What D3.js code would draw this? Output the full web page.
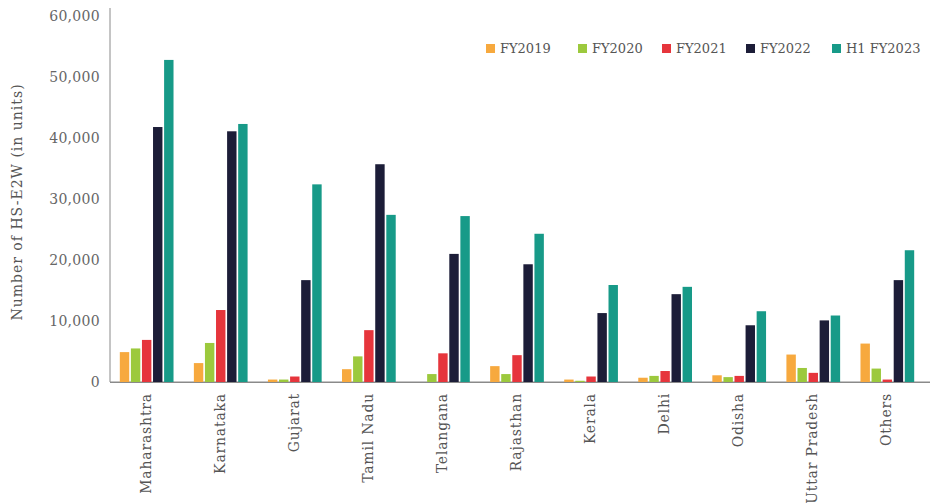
<!DOCTYPE html>
<html><head><meta charset="utf-8">
<script src="https://cdn.jsdelivr.net/npm/d3@7"></script>
<style>body{margin:0;background:#fff;} text{font-family:"DejaVu Serif","Liberation Serif",serif;}</style>
</head><body>
<svg id="c" width="932" height="503"></svg>
<script>
const categories = ["Maharashtra","Karnataka","Gujarat","Tamil Nadu","Telangana","Rajasthan","Kerala","Delhi","Odisha","Uttar Pradesh","Others"];
const seriesNames = ["FY2019","FY2020","FY2021","FY2022","H1 FY2023"];
const fy2019 = [4900, 3100, 400, 2100, 0, 2600, 400, 700, 1100, 4500, 6300];
const fy2020 = [5500, 6400, 400, 4200, 1300, 1300, 200, 1000, 800, 2300, 2200];
const fy2021 = [6900, 11800, 900, 8500, 4700, 4400, 900, 1800, 1000, 1500, 400];
const fy2022 = [41800, 41100, 16700, 35700, 21000, 19300, 11300, 14400, 9300, 10100, 16700];
const h1fy2023 = [52800, 42300, 32400, 27400, 27200, 24300, 15900, 15600, 11600, 10900, 21600];
const yTicks = [0, 10000, 20000, 30000, 40000, 50000, 60000];
const colors = ["#F7A93E", "#9CC93D", "#E6353C", "#1C1D38", "#179A88"];
const series = [fy2019, fy2020, fy2021, fy2022, h1fy2023];

const svg = d3.select("#c");
const x0 = d3.scaleBand().domain(categories).range([110, 924]).paddingInner(0.23).paddingOuter(0.11);
const x1 = d3.scaleBand().domain(seriesNames).range([0, x0.bandwidth()]).padding(0.15);
const y = d3.scaleLinear().domain([0, 60000]).range([382, 16]);

// axes
const yAxis = svg.append("g").attr("transform","translate(110,0)")
  .call(d3.axisLeft(y).tickValues(yTicks).tickSize(0).tickPadding(10).tickFormat(d3.format(",")));
yAxis.select(".domain").attr("stroke","#8a8a8a").attr("d","M0,8V382");
yAxis.selectAll("text").attr("fill","#666").style("font-size","14px").style("letter-spacing","0.3px");

const xAxis = svg.append("g").attr("transform","translate(0,382)")
  .call(d3.axisBottom(x0).tickSize(0).tickPadding(0));
xAxis.select(".domain").attr("stroke","#8a8a8a").attr("d","M110,0H930");
xAxis.selectAll("text").attr("fill","#555").style("font-size","14px").style("letter-spacing","0.8px")
  .attr("text-anchor","end").attr("transform","rotate(-90)").attr("dy","0.35em").attr("x",-11).attr("y",-1);

// bars
const g = svg.append("g");
categories.forEach((c, i) => {
  series.forEach((s, j) => {
    g.append("rect")
      .attr("x", x0(c) + x1(seriesNames[j]))
      .attr("width", x1.bandwidth())
      .attr("y", y(s[i]))
      .attr("height", y(0) - y(s[i]))
      .attr("fill", colors[j]);
  });
});
svg.append("line").attr("x1",110).attr("x2",930).attr("y1",382.5).attr("y2",382.5).attr("stroke","#8a8a8a");

// y label
svg.append("text").attr("transform","translate(22,202) rotate(-90)").attr("text-anchor","middle")
  .attr("fill","#555").style("font-size","14px").style("letter-spacing","1px").text("Number of HS-E2W (in units)");

// legend
const legX = [486, 578, 662, 746, 832];
seriesNames.forEach((n, j) => {
  const lg = svg.append("g").attr("transform", `translate(${legX[j]},44)`);
  lg.append("rect").attr("width",9).attr("height",9).attr("fill",colors[j]);
  lg.append("text").attr("x",14).attr("y",9).attr("fill","#555").style("font-size","13px").text(n);
});
</script>
</body></html>
